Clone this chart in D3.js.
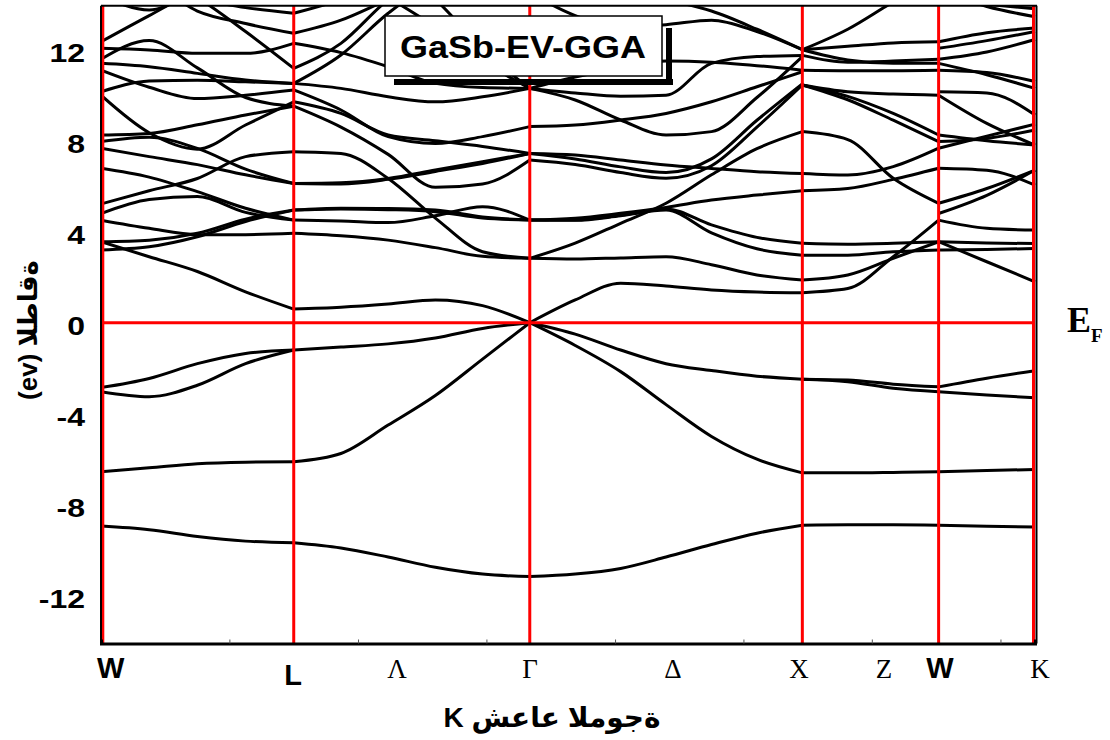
<!DOCTYPE html>
<html>
<head>
<meta charset="utf-8">
<script src="https://cdn.jsdelivr.net/npm/d3@7/dist/d3.min.js"></script>
<style>
body { margin: 0; background: #fff; }
svg { display: block; font-family: Arial, "Liberation Sans", "DejaVu Sans", sans-serif; }
</style>
</head>
<body>
<script>
// k-path nodes W-L-G-X-W-K (units of 2pi/a)
var kNodes = [0, 0.7071, 1.5731, 2.5731, 3.0731, 3.4267];
var kLabels = ["W", "L", "\u039B", "\u0393", "\u0394", "X", "Z", "W", "K"];
var kLabelPos = [0.036, 0.7045, 1.086, 1.574, 2.0986, 2.561, 2.8727, 3.078, 3.445];
var kLabelSerif = [false, false, true, true, true, true, true, false, true];
var minorTicks = [0.471, 0.943, 1.414, 1.886, 2.357, 2.828, 3.300];
var yTicks = [-12, -8, -4, 0, 4, 8, 12];

// sample k positions inside each segment
var kWL = [0, 0.1768, 0.3536, 0.5303, 0.7071];
var kLG = [0.7071, 0.8803, 1.0535, 1.2267, 1.3999, 1.5731];
var kGX = [1.5731, 1.7398, 1.9065, 2.0731, 2.2398, 2.4065, 2.5731];
var kXW = [2.5731, 2.7398, 2.9065, 3.0731];
var kWK = [3.0731, 3.2499, 3.4267];

// band energies (eV) read at the sample points, one row per line
var bandsWL = [
  [14.5, 14.4, 14.2, 13.85, 13.6],
  [14.4, 13.75, 14.6, 15.2, 15.5],
  [15.5, 15.0, 13.7, 13.15, 12.72],
  [16.0, 15.5, 14.3, 12.8, 11.18],
  [12.35, 13.5, 14.6, 15.2, 15.5],
  [12.06, 11.99, 11.84, 11.84, 12.28],
  [11.58, 12.4, 11.2, 9.9, 9.52],
  [11.4, 11.25, 10.96, 10.67, 10.52],
  [11.1, 10.35, 9.85, 10.0, 10.23],
  [10.15, 10.62, 10.66, 10.59, 10.52],
  [10.0, 8.35, 7.63, 8.69, 9.71],
  [8.25, 8.32, 8.7, 9.13, 9.52],
  [7.96, 8.15, 7.66, 6.75, 6.12],
  [7.67, 7.3, 6.95, 6.5, 6.12],
  [6.79, 6.4, 5.76, 5.03, 4.51],
  [5.22, 5.8, 6.34, 7.3, 7.52],
  [4.8, 5.42, 5.55, 4.85, 4.51],
  [4.51, 4.15, 3.87, 3.87, 3.93],
  [3.56, 3.63, 3.93, 4.55, 4.95],
  [3.2, 3.34, 3.78, 4.45, 4.95],
  [3.56, 2.9, 2.25, 1.36, 0.6],
  [-2.85, -2.45, -1.8, -1.35, -1.2],
  [-3.03, -3.25, -2.75, -1.8, -1.2],
  [-6.55, -6.38, -6.2, -6.13, -6.11],
  [-8.94, -9.1, -9.4, -9.6, -9.67]
];
var bandsLG = [
  [13.6, 14.2, 15.0, 15.5, 15.5, 15.5],
  [12.72, 13.3, 14.2, 15.0, 15.5, 15.5],
  [11.18, 12.28, 14.2, 15.5, 15.5, 15.5],
  [10.52, 11.77, 13.6, 15.0, 15.5, 15.5],
  [15.5, 15.5, 14.3, 13.0, 11.5, 10.3],
  [15.5, 15.5, 15.5, 14.2, 12.0, 10.3],
  [12.28, 11.87, 11.25, 10.52, 10.34, 10.3],
  [10.52, 10.3, 9.93, 9.71, 9.93, 10.3],
  [10.23, 9.35, 8.18, 7.88, 8.18, 8.62],
  [9.71, 9.2, 8.25, 8.0, 7.75, 7.44],
  [9.52, 8.6, 7.4, 5.95, 6.1, 7.15],
  [6.12, 6.15, 6.34, 6.71, 7.08, 7.44],
  [6.12, 6.1, 6.3, 6.65, 7.0, 7.44],
  [7.52, 7.44, 6.34, 4.6, 3.12, 2.83],
  [4.95, 5.03, 5.02, 4.95, 4.65, 4.51],
  [4.95, 5.0, 4.97, 4.88, 4.6, 4.51],
  [4.51, 4.47, 4.4, 4.7, 5.1, 4.51],
  [3.93, 3.82, 3.63, 3.3, 2.92, 2.83],
  [0.6, 0.68, 0.82, 1.0, 0.75, 0],
  [-1.2, -1.07, -0.93, -0.67, -0.25, 0],
  [-6.11, -5.75, -4.5, -3.2, -1.6, 0],
  [-9.67, -9.9, -10.3, -10.75, -11.05, -11.16]
];
var bandsGX = [
  [15.5, 15.5, 14.6, 14.2, 13.7, 12.9, 12.0],
  [14.5, 13.5, 13.0, 13.1, 13.3, 12.8, 12.0],
  [10.3, 10.1, 9.95, 10.0, 11.4, 11.7, 11.75],
  [10.3, 10.8, 11.2, 11.5, 11.45, 11.3, 11.1],
  [10.3, 9.79, 8.91, 8.25, 8.4, 9.9, 11.7],
  [8.62, 8.69, 8.91, 9.2, 9.71, 10.37, 11.03],
  [7.44, 7.2, 6.85, 6.6, 7.2, 8.9, 10.5],
  [7.15, 6.95, 6.6, 6.35, 6.9, 8.6, 10.45],
  [7.44, 7.37, 7.15, 6.93, 6.78, 6.64, 6.56],
  [4.51, 4.5, 4.7, 4.95, 3.95, 3.25, 2.97],
  [4.51, 4.52, 4.72, 5.0, 4.3, 3.75, 3.49],
  [4.51, 4.59, 4.81, 5.07, 5.39, 5.61, 5.8],
  [2.83, 3.5, 4.37, 5.25, 6.5, 7.65, 8.4],
  [2.83, 2.8, 2.85, 2.9, 2.55, 2.1, 1.88],
  [0, 1.0, 1.74, 1.61, 1.44, 1.35, 1.32],
  [0, -0.5, -1.2, -1.8, -2.1, -2.35, -2.48],
  [0, -1.0, -2.15, -3.6, -5.0, -6.0, -6.6],
  [-11.16, -11.05, -10.8, -10.3, -9.75, -9.25, -8.9]
];
var bandsXW = [
  [12.0, 12.9, 14.1, 15.2],
  [12.0, 12.15, 12.3, 12.35],
  [12.0, 11.55, 11.4, 11.4],
  [11.75, 11.45, 11.5, 11.58],
  [11.1, 11.08, 11.08, 11.1],
  [10.45, 10.15, 10.05, 10.0],
  [10.45, 9.95, 9.2, 8.25],
  [10.45, 9.8, 8.9, 7.96],
  [8.4, 8.05, 6.35, 5.25],
  [6.56, 6.49, 6.86, 7.67],
  [5.8, 5.9, 6.3, 6.79],
  [3.49, 3.45, 3.49, 3.56],
  [2.97, 2.97, 3.12, 3.2],
  [1.88, 2.1, 2.83, 3.56],
  [1.32, 1.5, 2.9, 4.51],
  [-2.48, -2.52, -2.7, -2.82],
  [-2.48, -2.59, -2.88, -3.03],
  [-6.6, -6.6, -6.58, -6.55],
  [-8.9, -8.88, -8.88, -8.9]
];
var bandsWK = [
  [14.2, 14.0, 13.8],
  [14.6, 13.9, 13.45],
  [12.35, 12.75, 12.95],
  [12.06, 12.4, 12.8],
  [11.58, 11.9, 12.45],
  [11.4, 10.9, 10.3],
  [11.1, 11.0, 10.6],
  [10.15, 10.1, 9.13],
  [10.0, 8.76, 7.81],
  [8.25, 8.0, 7.81],
  [7.96, 8.1, 8.47],
  [7.67, 8.2, 8.73],
  [6.79, 6.7, 6.05],
  [5.25, 5.9, 6.71],
  [4.8, 5.6, 6.71],
  [4.51, 4.15, 4.07],
  [3.56, 3.5, 3.48],
  [3.2, 3.22, 3.26],
  [3.56, 2.68, 1.8],
  [-2.82, -2.44, -2.11],
  [-3.03, -3.18, -3.3],
  [-6.55, -6.5, -6.45],
  [-8.9, -8.95, -8.98]
];

var segments = [
  {k: kWL, bands: bandsWL},
  {k: kLG, bands: bandsLG},
  {k: kGX, bands: bandsGX},
  {k: kXW, bands: bandsXW},
  {k: kWK, bands: bandsWK}
];

var width = 1110, height = 740;
var x = d3.scaleLinear().domain([0, 3.4267]).range([101, 1035]);
var y = d3.scaleLinear().domain([-14.1, 13.93]).range([643.5, 5.8]);

var svg = d3.select("body").append("svg")
  .attr("width", width)
  .attr("height", height);

svg.append("clipPath").attr("id", "plot")
  .append("rect")
  .attr("x", x(0)).attr("y", y(13.93))
  .attr("width", x(3.4267) - x(0) + 2)
  .attr("height", y(-14.1) - y(13.93));

var line = d3.line()
  .x(function(d) { return x(d[0]); })
  .y(function(d) { return y(d[1]); })
  .curve(d3.curveMonotoneX);

var gBands = svg.append("g").attr("clip-path", "url(#plot)");
segments.forEach(function(seg) {
  gBands.selectAll(null)
    .data(seg.bands)
    .enter().append("path")
    .attr("d", function(b) { return line(b.map(function(e, i) { return [seg.k[i], e]; })); })
    .attr("fill", "none")
    .attr("stroke", "#000")
    .attr("stroke-width", 3);
});

// red guides: Fermi level and high-symmetry points
svg.append("line")
  .attr("x1", x(0)).attr("x2", x(3.4267))
  .attr("y1", y(0)).attr("y2", y(0))
  .attr("stroke", "#ff0000").attr("stroke-width", 3);

svg.selectAll(".kline")
  .data(kNodes)
  .enter().append("line")
  .attr("class", "kline")
  .attr("x1", function(d, i) { return x(d) + (i == 0 ? 1.8 : i == kNodes.length - 1 ? -1.5 : 0); })
  .attr("x2", function(d, i) { return x(d) + (i == 0 ? 1.8 : i == kNodes.length - 1 ? -1.5 : 0); })
  .attr("y1", y(13.93)).attr("y2", y(-14.1))
  .attr("stroke", "#ff0000").attr("stroke-width", 3);

// frame
svg.append("line").attr("x1", x(0)).attr("x2", x(3.4267) + 2)
  .attr("y1", y(13.93)).attr("y2", y(13.93))
  .attr("stroke", "#000").attr("stroke-width", 2);
svg.append("line").attr("x1", x(0)).attr("x2", x(0))
  .attr("y1", y(13.93)).attr("y2", y(-14.1))
  .attr("stroke", "#000").attr("stroke-width", 2);
svg.append("line").attr("x1", x(3.4267) + 1.5).attr("x2", x(3.4267) + 1.5)
  .attr("y1", y(13.93)).attr("y2", y(-14.1))
  .attr("stroke", "#000").attr("stroke-width", 2);

var xAxis = svg.append("g")
  .attr("transform", "translate(0," + y(-14.1) + ")")
  .call(d3.axisBottom(x).tickValues(minorTicks).tickSize(-4).tickFormat(""));
xAxis.select(".domain").attr("stroke", "#000").attr("stroke-width", 3);
xAxis.selectAll(".tick line").attr("stroke", "#555").attr("stroke-width", 1);

var yAxis = svg.append("g")
  .attr("transform", "translate(" + x(0) + ",0)")
  .call(d3.axisLeft(y).tickValues(yTicks).tickSize(0).tickPadding(13)
    .tickFormat(function(d) { return String(d); }));
yAxis.select(".domain").remove();
yAxis.selectAll("text")
  .attr("dy", "0.45em")
  .attr("transform", "scale(1.23,1)")
  .style("font-family", "Arial, 'Liberation Sans', sans-serif")
  .style("font-weight", "bold")
  .style("font-size", "26px")
  .attr("fill", "#000");

// high-symmetry labels
svg.selectAll(".klabel")
  .data(kLabels)
  .enter().append("text")
  .attr("class", "klabel")
  .attr("x", function(d, i) { return x(kLabelPos[i]); })
  .attr("y", function(d, i) { return i == 1 ? 685 : 678; })
  .attr("text-anchor", "middle")
  .style("font-family", function(d, i) { return kLabelSerif[i] ? "'Liberation Serif', 'DejaVu Serif', serif" : "Arial, 'Liberation Sans', sans-serif"; })
  .style("font-weight", function(d, i) { return kLabelSerif[i] ? "normal" : "bold"; })
  .style("font-size", function(d, i) { return kLabelSerif[i] ? "27px" : "29px"; })
  .text(function(d) { return d; });

// axis titles
svg.append("text")
  .attr("x", 552).attr("y", 727)
  .attr("text-anchor", "middle")
  .style("font-weight", "bold")
  .style("font-size", "28px")
  .style("direction", "ltr")
  .style("unicode-bidi", "bidi-override")
  .text("K \u0634\u0639\u0627\u0639 \u0627\u0644\u0645\u0648\u062C\u0629");

svg.append("text")
  .attr("transform", "translate(37,330) rotate(-90)")
  .attr("text-anchor", "middle")
  .style("font-weight", "bold")
  .style("font-size", "26px")
  .style("direction", "ltr")
  .style("unicode-bidi", "bidi-override")
  .text("(ev) \u0627\u0644\u0637\u0627\u0642\u0629");

// Fermi level label
var ef = svg.append("text")
  .attr("x", 1067).attr("y", 332)
  .style("font-family", "'Liberation Serif', 'DejaVu Serif', serif")
  .style("font-weight", "bold")
  .style("font-size", "36px");
ef.append("tspan").text("E");
ef.append("tspan").attr("dy", 10).style("font-size", "19px").text("F");

// title box with shadow
svg.append("rect").attr("x", 394).attr("y", 79).attr("width", 279).attr("height", 6).attr("fill", "#000");
svg.append("rect").attr("x", 666).attr("y", 28).attr("width", 6).attr("height", 55).attr("fill", "#000");
svg.append("rect")
  .attr("x", 385).attr("y", 16).attr("width", 277).attr("height", 60)
  .attr("fill", "#fff").attr("stroke", "#000").attr("stroke-width", 1.5);
svg.append("text")
  .attr("x", 523).attr("y", 58)
  .attr("text-anchor", "middle")
  .attr("textLength", 246)
  .attr("lengthAdjust", "spacingAndGlyphs")
  .style("font-weight", "bold")
  .style("font-size", "32px")
  .text("GaSb-EV-GGA");
</script>
</body>
</html>
